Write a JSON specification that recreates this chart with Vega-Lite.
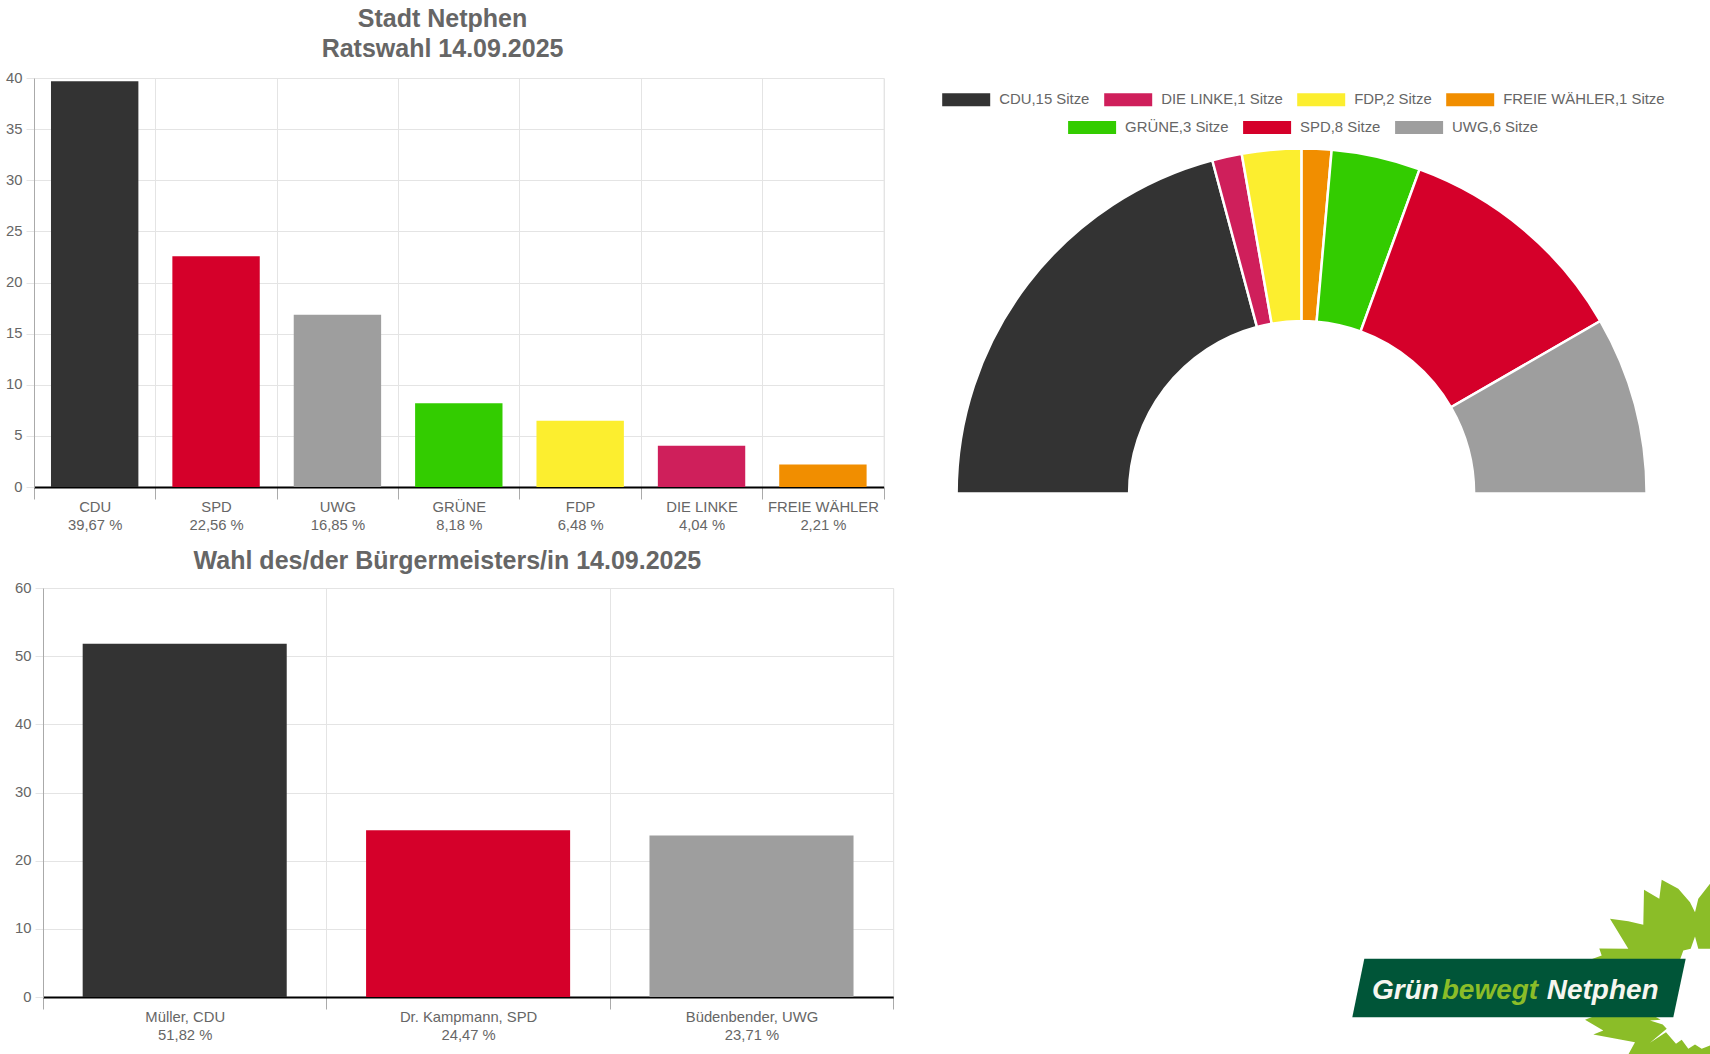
{
  "$schema": "https://vega.github.io/schema/vega-lite/v6.json",
  "background": "white",
  "padding": {"left": 0, "top": 6, "right": 0, "bottom": 0},
  "autosize": {"type": "pad"},
  "config": {
    "font": "Liberation Sans",
    "view": {"stroke": "#e4e4e4", "strokeWidth": 1},
    "title": {"font": "Liberation Sans", "fontSize": 25, "fontWeight": "bold", "color": "#666666", "anchor": "middle", "frame": "bounds", "lineHeight": 30.5},
    "axisX": {
      "title": null, "tickBand": "extent", "labelAngle": 0, "labelFontSize": 14.8, "labelColor": "#666666",
      "labelExpr": "split(datum.label, '|')", "labelLineHeight": 18, "labelPadding": 0, "labelBaseline": "top",
      "tickColor": "#aaaaaa", "tickSize": 12, "domainColor": "#000000", "domainWidth": 2, "gridColor": "#e4e4e4", "grid": true, "zindex": 1
    },
    "axisY": {
      "title": null, "labelFontSize": 14.8, "labelColor": "#666666", "labelPadding": 4,
      "tickColor": "#e4e4e4", "tickSize": 8, "domainColor": "#aaaaaa", "gridColor": "#e4e4e4", "grid": true
    }
  },
  "datasets": {
    "council": [
      {"party": "CDU", "share": 39.67, "tick": "CDU|39,67 %"},
      {"party": "SPD", "share": 22.56, "tick": "SPD|22,56 %"},
      {"party": "UWG", "share": 16.85, "tick": "UWG|16,85 %"},
      {"party": "GRÜNE", "share": 8.18, "tick": "GRÜNE|8,18 %"},
      {"party": "FDP", "share": 6.48, "tick": "FDP|6,48 %"},
      {"party": "DIE LINKE", "share": 4.04, "tick": "DIE LINKE|4,04 %"},
      {"party": "FREIE WÄHLER", "share": 2.21, "tick": "FREIE WÄHLER|2,21 %"}
    ],
    "mayor": [
      {"party": "CDU", "share": 51.82, "tick": "Müller, CDU|51,82 %"},
      {"party": "SPD", "share": 24.47, "tick": "Dr. Kampmann, SPD|24,47 %"},
      {"party": "UWG", "share": 23.71, "tick": "Büdenbender, UWG|23,71 %"}
    ],
    "seats": [
      {"order": 1, "row": 1, "label": "CDU,15 Sitze", "seats": 15},
      {"order": 2, "row": 1, "label": "DIE LINKE,1 Sitze", "seats": 1},
      {"order": 3, "row": 1, "label": "FDP,2 Sitze", "seats": 2},
      {"order": 4, "row": 1, "label": "FREIE WÄHLER,1 Sitze", "seats": 1},
      {"order": 5, "row": 2, "label": "GRÜNE,3 Sitze", "seats": 3},
      {"order": 6, "row": 2, "label": "SPD,8 Sitze", "seats": 8},
      {"order": 7, "row": 2, "label": "UWG,6 Sitze", "seats": 6}
    ],
    "leaf": [
      {"piece": "top", "n": 1, "x": 1590.7, "y": 959},
      {"piece": "top", "n": 2, "x": 1601.7, "y": 955},
      {"piece": "top", "n": 3, "x": 1599.3, "y": 948},
      {"piece": "top", "n": 4, "x": 1628.3, "y": 948.3},
      {"piece": "top", "n": 5, "x": 1610, "y": 918.3},
      {"piece": "top", "n": 6, "x": 1628.3, "y": 920.7},
      {"piece": "top", "n": 7, "x": 1643.3, "y": 924.3},
      {"piece": "top", "n": 8, "x": 1644, "y": 889.3},
      {"piece": "top", "n": 9, "x": 1659.3, "y": 898.3},
      {"piece": "top", "n": 10, "x": 1661.7, "y": 879.3},
      {"piece": "top", "n": 11, "x": 1678.3, "y": 888.3},
      {"piece": "top", "n": 12, "x": 1690, "y": 901.7},
      {"piece": "top", "n": 13, "x": 1695, "y": 911.7},
      {"piece": "top", "n": 14, "x": 1698.3, "y": 898.3},
      {"piece": "top", "n": 15, "x": 1710, "y": 883.3},
      {"piece": "top", "n": 16, "x": 1710, "y": 948.3},
      {"piece": "top", "n": 17, "x": 1698.3, "y": 948.3},
      {"piece": "top", "n": 18, "x": 1695, "y": 936},
      {"piece": "top", "n": 19, "x": 1690.7, "y": 948.3},
      {"piece": "top", "n": 20, "x": 1683.3, "y": 950},
      {"piece": "top", "n": 21, "x": 1680, "y": 959.3},
      {"piece": "top", "n": 22, "x": 1660, "y": 959.3},
      {"piece": "bottom", "n": 1, "x": 1585, "y": 1019.3},
      {"piece": "bottom", "n": 2, "x": 1593.3, "y": 1016},
      {"piece": "bottom", "n": 3, "x": 1655, "y": 1016},
      {"piece": "bottom", "n": 4, "x": 1660.7, "y": 1019.3},
      {"piece": "bottom", "n": 5, "x": 1650, "y": 1020},
      {"piece": "bottom", "n": 6, "x": 1662.7, "y": 1024},
      {"piece": "bottom", "n": 7, "x": 1666.7, "y": 1028.3},
      {"piece": "bottom", "n": 8, "x": 1650, "y": 1042.3},
      {"piece": "bottom", "n": 9, "x": 1666, "y": 1031.7},
      {"piece": "bottom", "n": 10, "x": 1676, "y": 1043.3},
      {"piece": "bottom", "n": 11, "x": 1681.7, "y": 1039.3},
      {"piece": "bottom", "n": 12, "x": 1688.3, "y": 1048.3},
      {"piece": "bottom", "n": 13, "x": 1695, "y": 1044},
      {"piece": "bottom", "n": 14, "x": 1701.7, "y": 1048.3},
      {"piece": "bottom", "n": 15, "x": 1710, "y": 1045},
      {"piece": "bottom", "n": 16, "x": 1710, "y": 1054},
      {"piece": "bottom", "n": 17, "x": 1628.3, "y": 1054},
      {"piece": "bottom", "n": 18, "x": 1635, "y": 1041.7},
      {"piece": "bottom", "n": 19, "x": 1593.3, "y": 1034},
      {"piece": "bottom", "n": 20, "x": 1603.3, "y": 1030}
    ],
    "banner": [
      {"n": 1, "x": 1364.3, "y": 958.3},
      {"n": 2, "x": 1685.7, "y": 958.3},
      {"n": 3, "x": 1673.3, "y": 1016.7},
      {"n": 4, "x": 1352.3, "y": 1016.7}
    ],
    "slogan": [
      {"word": "Grün", "x": 1372, "y": 998},
      {"word": "bewegt", "x": 1441.7, "y": 998},
      {"word": "Netphen", "x": 1546.7, "y": 998}
    ]
  },
  "spacing": 0,
  "hconcat": [
    {
      "vconcat": [
        {
          "title": {"text": ["Stadt Netphen", "Ratswahl 14.09.2025"], "offset": 7.6},
          "width": 849.6,
          "height": 409,
          "data": {"name": "council"},
          "mark": {"type": "bar", "width": {"band": 0.72}},
          "encoding": {
            "x": {"field": "tick", "type": "nominal", "sort": null, "scale": {"paddingInner": 0, "paddingOuter": 0}},
            "y": {"field": "share", "type": "quantitative", "scale": {"domain": [0, 40]}, "axis": {"values": [0, 5, 10, 15, 20, 25, 30, 35, 40], "minExtent": 33.4, "maxExtent": 33.4}},
            "color": {
              "field": "party", "legend": null,
              "scale": {
                "domain": ["CDU", "SPD", "UWG", "GRÜNE", "FDP", "DIE LINKE", "FREIE WÄHLER"],
                "range": ["#333333", "#d5002a", "#9e9e9e", "#33cc00", "#fcee2f", "#cf1f5b", "#f18e00"]
              }
            }
          }
        },
        {
          "bounds": "flush",
          "spacing": 0,
          "hconcat": [
            {
              "width": 8.2,
              "height": 409,
              "view": {"stroke": null},
              "data": {"values": []},
              "mark": {"type": "rect"}
            },
            {
              "title": {"text": "Wahl des/der Bürgermeisters/in 14.09.2025", "offset": 6.4},
              "width": 850.2,
              "height": 409,
              "data": {"name": "mayor"},
              "mark": {"type": "bar", "width": {"band": 0.72}},
              "encoding": {
                "x": {"field": "tick", "type": "nominal", "sort": null, "scale": {"paddingInner": 0, "paddingOuter": 0}},
                "y": {"field": "share", "type": "quantitative", "scale": {"domain": [0, 60]}, "axis": {"values": [0, 10, 20, 30, 40, 50, 60], "minExtent": 41.6, "maxExtent": 41.6}},
                "color": {
                  "field": "party", "legend": null,
                  "scale": {"domain": ["CDU", "SPD", "UWG"], "range": ["#333333", "#d5002a", "#9e9e9e"]}
                }
              }
            }
          ]
        }
      ],
      "spacing": 15
    },
    {
      "width": 816,
      "height": 976.5,
      "view": {"stroke": null},
      "layer": [
        {
          "data": {"name": "seats"},
          "transform": [
            {"stack": "seats", "groupby": [], "sort": [{"field": "order", "order": "ascending"}], "as": ["from", "to"]},
            {"filter": "datum.row == 1"}
          ],
          "mark": {"type": "arc", "radius": 345, "radius2": 172.5, "stroke": "white", "strokeWidth": 2.5},
          "encoding": {
            "x": {"datum": 1301.6, "type": "quantitative"},
            "y": {"datum": 493, "type": "quantitative"},
            "theta": {"field": "from", "type": "quantitative", "scale": {"domain": [0, 36], "range": [-1.5708, 1.5708]}},
            "theta2": {"field": "to"},
            "color": {
              "field": "label", "type": "nominal",
              "scale": {
                "domain": ["CDU,15 Sitze", "DIE LINKE,1 Sitze", "FDP,2 Sitze", "FREIE WÄHLER,1 Sitze"],
                "range": ["#333333", "#cf1f5b", "#fcee2f", "#f18e00"]
              },
              "legend": {
                "title": null, "orient": "none", "legendX": 48.2, "legendY": -2.2, "direction": "horizontal", "columns": 4,
                "gridAlign": "none", "columnPadding": 14, "padding": 0,
                "symbolType": "M-1,-0.27H1V0.27H-1Z", "symbolSize": 2304, "symbolStrokeWidth": 0,
                "labelFontSize": 14.9, "labelColor": "#666666", "labelOffset": 9, "labelLimit": 300
              }
            }
          }
        },
        {
          "data": {"name": "seats"},
          "transform": [
            {"stack": "seats", "groupby": [], "sort": [{"field": "order", "order": "ascending"}], "as": ["from", "to"]},
            {"filter": "datum.row == 2"}
          ],
          "mark": {"type": "arc", "radius": 345, "radius2": 172.5, "stroke": "white", "strokeWidth": 2.5},
          "encoding": {
            "x": {"datum": 1301.6, "type": "quantitative"},
            "y": {"datum": 493, "type": "quantitative"},
            "theta": {"field": "from", "type": "quantitative", "scale": {"domain": [0, 36], "range": [-1.5708, 1.5708]}},
            "theta2": {"field": "to"},
            "color": {
              "field": "label", "type": "nominal",
              "scale": {
                "domain": ["GRÜNE,3 Sitze", "SPD,8 Sitze", "UWG,6 Sitze"],
                "range": ["#33cc00", "#d5002a", "#9e9e9e"]
              },
              "legend": {
                "title": null, "orient": "none", "legendX": 174.1, "legendY": 25.6, "direction": "horizontal", "columns": 3,
                "gridAlign": "none", "columnPadding": 14, "padding": 0,
                "symbolType": "M-1,-0.27H1V0.27H-1Z", "symbolSize": 2304, "symbolStrokeWidth": 0,
                "labelFontSize": 14.9, "labelColor": "#666666", "labelOffset": 9, "labelLimit": 300
              }
            }
          }
        },
        {
          "data": {"name": "leaf"},
          "mark": {"type": "line", "fill": "#8bbd28", "stroke": "#8bbd28", "strokeWidth": 0},
          "encoding": {
            "x": {"field": "x", "type": "quantitative", "axis": null, "scale": {"domain": [894, 1710], "nice": false, "zero": false}},
            "y": {"field": "y", "type": "quantitative", "axis": null, "scale": {"domain": [1054, 77.5], "nice": false, "zero": false}},
            "detail": {"field": "piece"},
            "order": {"field": "n"}
          }
        },
        {
          "data": {"name": "banner"},
          "mark": {"type": "line", "fill": "#005538", "stroke": "#005538", "strokeWidth": 0},
          "encoding": {
            "x": {"field": "x", "type": "quantitative"},
            "y": {"field": "y", "type": "quantitative"},
            "order": {"field": "n"}
          }
        },
        {
          "data": {"name": "slogan"},
          "mark": {"type": "text", "font": "Liberation Sans", "fontStyle": "italic", "fontWeight": "bold", "fontSize": 28, "align": "left", "baseline": "alphabetic"},
          "encoding": {
            "x": {"field": "x", "type": "quantitative"},
            "y": {"field": "y", "type": "quantitative"},
            "text": {"field": "word"},
            "color": {"field": "word", "legend": null, "scale": {"domain": ["Grün", "bewegt", "Netphen"], "range": ["#f6f6ef", "#8bbd28", "#f6f6ef"]}}
          }
        }
      ],
      "resolve": {"scale": {"color": "independent"}, "legend": {"color": "independent"}}
    }
  ]
}
